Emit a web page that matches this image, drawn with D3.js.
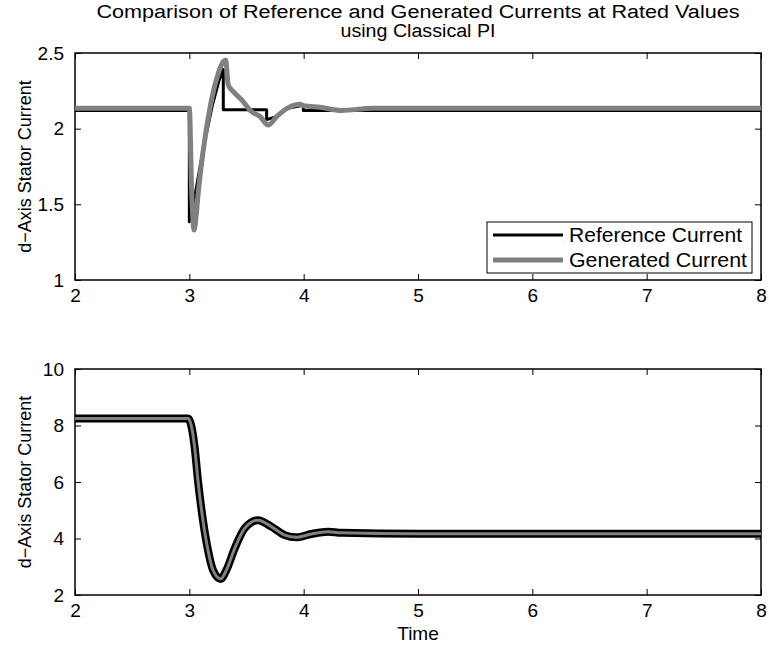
<!DOCTYPE html>
<html><head><meta charset="utf-8">
<script src="https://cdn.jsdelivr.net/npm/d3@7"></script>
<style>body{margin:0;background:#fff}svg{display:block}text{font-family:"Liberation Sans",Arial,Helvetica,sans-serif;fill:#000}</style>
</head><body>
<script>
// ---- data ----
const titleLines = ["Comparison of Reference and Generated Currents at Rated Values", "using Classical PI"];
const xTicks = [2, 3, 4, 5, 6, 7, 8];
const topYTicks = [1, 1.5, 2, 2.5];
const botYTicks = [2, 4, 6, 8, 10];
const yLabel = "d\u2212Axis Stator Current";
const xLabel = "Time";
const legendLabels = ["Reference Current", "Generated Current"];

// top: reference current (black)
const topRefT = [2, 3.0, 3.0, 3.05, 3.12, 3.2, 3.26, 3.297, 3.297, 3.676, 3.676, 3.76, 3.86, 3.997, 3.997, 8];
const topRefV = [2.12, 2.12, 1.385, 1.56, 1.86, 2.15, 2.32, 2.39, 2.125, 2.125, 2.06, 2.08, 2.135, 2.155, 2.12, 2.12];
// top: generated current (gray)
const topGenT = [2, 3.0, 3.02, 3.041, 3.06, 3.079, 3.12, 3.18, 3.24, 3.297, 3.318, 3.34, 3.385, 3.458, 3.545, 3.618, 3.691, 3.764, 3.866, 3.968, 3.997, 4.143, 4.33, 4.6, 8];
const topGenV = [2.135, 2.135, 1.6, 1.33, 1.43, 1.584, 1.848, 2.135, 2.333, 2.443, 2.454, 2.289, 2.245, 2.19, 2.112, 2.08, 2.024, 2.08, 2.139, 2.161, 2.152, 2.141, 2.12, 2.135, 2.135];

// bottom: reference and generated currents
const botRefT = [2, 2.99, 3.01, 3.046, 3.075, 3.119, 3.163, 3.207, 3.274, 3.324, 3.397, 3.484, 3.601, 3.717, 3.834, 3.936, 4.067, 4.213, 4.33, 5, 8];
const botRefV = [8.25, 8.25, 8.1, 7.25, 6.07, 4.65, 3.59, 2.88, 2.57, 2.88, 3.65, 4.36, 4.65, 4.42, 4.12, 4.04, 4.16, 4.24, 4.2, 4.17, 4.17];
const botGenT = [2, 2.99, 3.01, 3.046, 3.075, 3.119, 3.163, 3.207, 3.274, 3.324, 3.397, 3.484, 3.601, 3.717, 3.834, 3.936, 4.067, 4.213, 4.33, 5, 8];
const botGenV = [8.25, 8.25, 8.1, 7.25, 6.07, 4.65, 3.59, 2.88, 2.57, 2.88, 3.65, 4.36, 4.65, 4.42, 4.12, 4.04, 4.16, 4.24, 4.2, 4.17, 4.17];

// ---- drawing ----
const W = 769, H = 647;
const svg = d3.select("body").append("svg").attr("width", W).attr("height", H);
const FS = 19;
const L = 75, R = 761;
const panels = [
  {top: 53, bottom: 280, dom: [1, 2.5], yt: topYTicks, fmt: d => String(d)},
  {top: 369, bottom: 595, dom: [2, 10], yt: botYTicks, fmt: d => String(d)}
];
const x = d3.scaleLinear().domain([2, 8]).range([L, R]);

function drawAxes(p) {
  const y = d3.scaleLinear().domain(p.dom).range([p.bottom, p.top]);
  const g = svg.append("g");
  const tl = 6;
  const bottomAx = d3.axisBottom(x).tickValues(xTicks).tickSize(-tl).tickPadding(tl + 3).tickFormat(d => d);
  const topAx = d3.axisTop(x).tickValues(xTicks).tickSize(-tl).tickFormat("");
  const leftAx = d3.axisLeft(y).tickValues(p.yt).tickSize(-tl).tickPadding(tl + 5).tickFormat(p.fmt);
  const rightAx = d3.axisRight(y).tickValues(p.yt).tickSize(-tl).tickFormat("");
  g.append("g").attr("transform", `translate(0,${p.bottom})`).call(bottomAx);
  g.append("g").attr("transform", `translate(0,${p.top})`).call(topAx);
  g.append("g").attr("transform", `translate(${L},0)`).call(leftAx);
  g.append("g").attr("transform", `translate(${R},0)`).call(rightAx);
  g.selectAll(".domain").remove();
  g.selectAll(".tick line").attr("stroke", "#000").attr("stroke-width", 1);
  g.selectAll(".tick text").attr("font-size", FS).attr("font-family", '"Liberation Sans",Arial,sans-serif').attr("fill", "#000");
  g.append("rect").attr("x", L).attr("y", p.top).attr("width", R - L).attr("height", p.bottom - p.top)
    .attr("fill", "none").attr("stroke", "#000").attr("stroke-width", 1.5);
  svg.append("text").attr("transform", `translate(31,${(p.top + p.bottom) / 2}) rotate(-90)`)
    .attr("text-anchor", "middle").attr("font-size", 18).text(yLabel);
  return y;
}

const yTop = drawAxes(panels[0]);
const yBot = drawAxes(panels[1]);

svg.append("clipPath").attr("id", "ct").append("rect").attr("x", L).attr("y", panels[0].top).attr("width", R - L).attr("height", panels[0].bottom - panels[0].top);
svg.append("clipPath").attr("id", "cb").append("rect").attr("x", L).attr("y", panels[1].top).attr("width", R - L).attr("height", panels[1].bottom - panels[1].top);

function pts(T, V) { return T.map((t, i) => [t, V[i]]); }
const lineTop = d3.line().x(d => x(d[0])).y(d => yTop(d[1]));
const lineTopSmooth = d3.line().x(d => x(d[0])).y(d => yTop(d[1])).curve(d3.curveMonotoneX);
const lineBot = d3.line().x(d => x(d[0])).y(d => yBot(d[1])).curve(d3.curveMonotoneX);

const gt = svg.append("g").attr("clip-path", "url(#ct)");
gt.append("path").attr("d", lineTop(pts(topRefT, topRefV))).attr("fill", "none").attr("stroke", "#000").attr("stroke-width", 3).attr("stroke-linejoin", "round");
gt.append("path").attr("d", lineTopSmooth(pts(topGenT, topGenV))).attr("fill", "none").attr("stroke", "#808080").attr("stroke-width", 5).attr("stroke-linejoin", "round");

const gb = svg.append("g").attr("clip-path", "url(#cb)");
gb.append("path").attr("d", lineBot(pts(botRefT, botRefV))).attr("fill", "none").attr("stroke", "#000").attr("stroke-width", 8).attr("stroke-linejoin", "round");
gb.append("path").attr("d", lineBot(pts(botGenT, botGenV))).attr("fill", "none").attr("stroke", "#808080").attr("stroke-width", 3).attr("stroke-linejoin", "round");

// legend
const lg = svg.append("g");
lg.append("rect").attr("x", 487).attr("y", 222).attr("width", 265).attr("height", 51).attr("fill", "#fff").attr("stroke", "#000").attr("stroke-width", 1);
const legStyles = [{c: "#000", w: 3}, {c: "#808080", w: 5}];
const legLen = [173, 178];
legendLabels.forEach((lab, i) => {
  const cy = 235 + i * 25;
  lg.append("line").attr("x1", 493).attr("x2", 563).attr("y1", cy).attr("y2", cy).attr("stroke", legStyles[i].c).attr("stroke-width", legStyles[i].w);
  lg.append("text").attr("x", 569).attr("y", cy).attr("dy", "0.35em").attr("font-size", 20)
    .attr("textLength", legLen[i]).attr("lengthAdjust", "spacingAndGlyphs").text(lab);
});

// titles
svg.append("text").attr("x", (L + R) / 2).attr("y", 18).attr("text-anchor", "middle").attr("font-size", 18)
  .attr("textLength", 643).attr("lengthAdjust", "spacingAndGlyphs").text(titleLines[0]);
svg.append("text").attr("x", (L + R) / 2).attr("y", 37).attr("text-anchor", "middle").attr("font-size", 18)
  .attr("textLength", 155).attr("lengthAdjust", "spacingAndGlyphs").text(titleLines[1]);
svg.append("text").attr("x", (L + R) / 2).attr("y", 640).attr("text-anchor", "middle").attr("font-size", 19).text(xLabel);
</script>
</body></html>
